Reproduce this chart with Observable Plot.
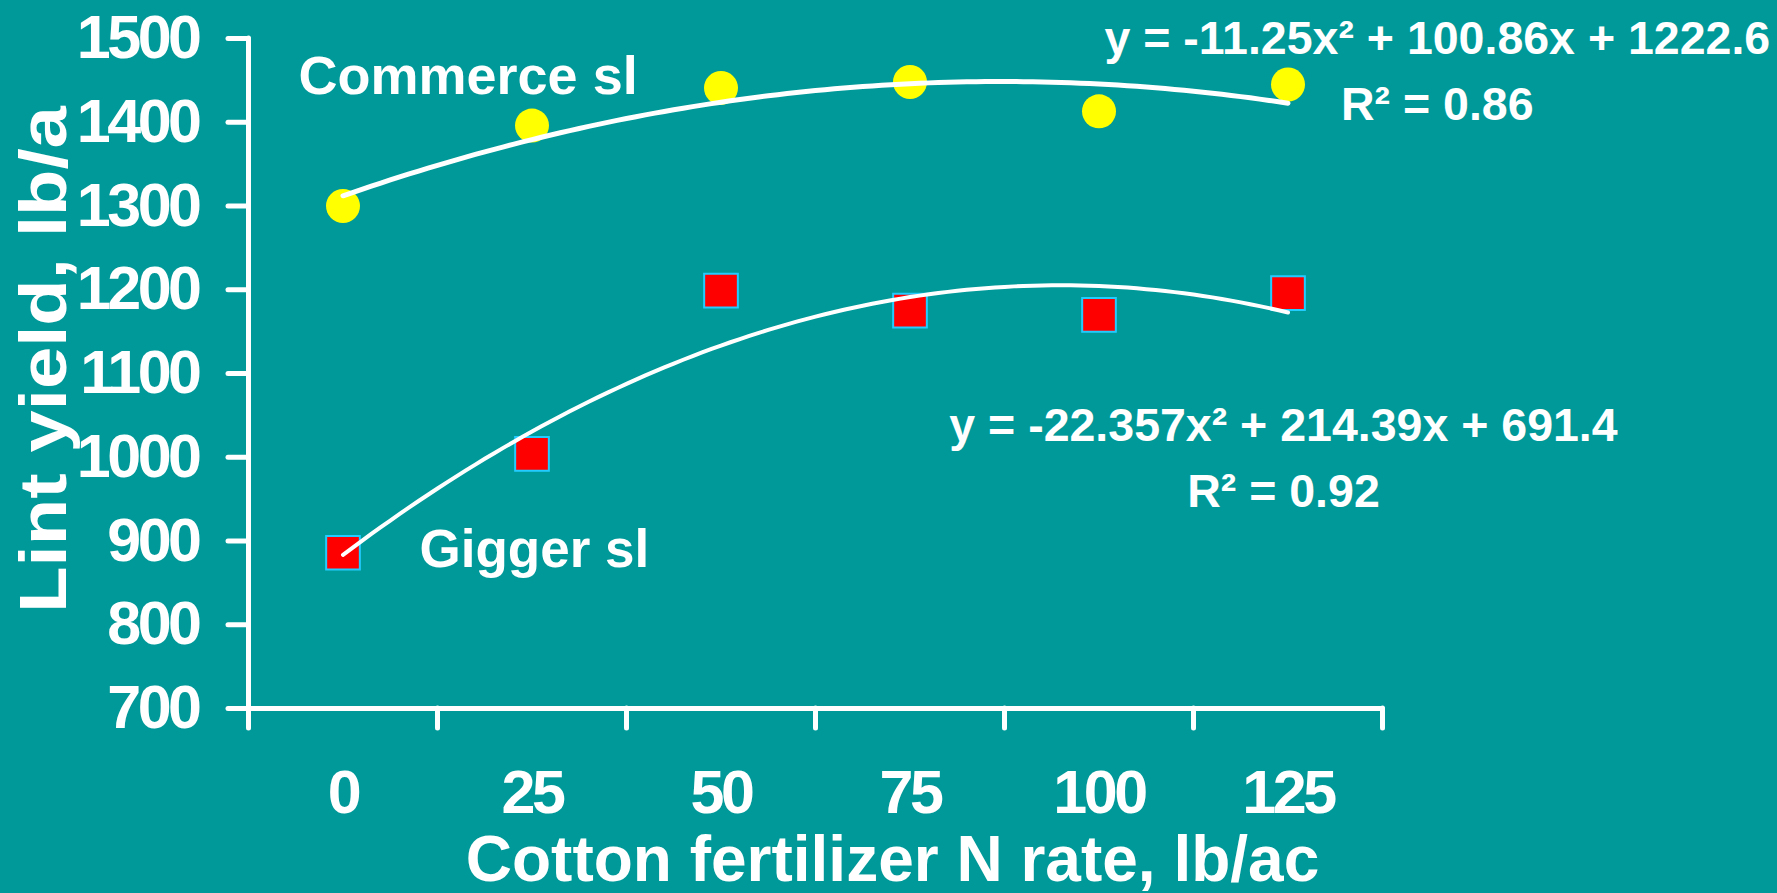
<!DOCTYPE html>
<html><head><meta charset="utf-8">
<script src="https://cdn.jsdelivr.net/npm/d3@7"></script>
<script src="https://cdn.jsdelivr.net/npm/@observablehq/plot@0.6"></script>
<style>html,body{margin:0;padding:0;background:#009999;overflow:hidden}</style>
</head><body><div id="chart"></div>
<script>
// Data
const rates = [0, 25, 50, 75, 100, 125];           // x categories, lb/ac
const commerce = [1300, 1396, 1441, 1448, 1413, 1445];
const gigger = [886, 1004, 1199, 1175, 1170, 1196];
const yTicks = [700, 800, 900, 1000, 1100, 1200, 1300, 1400, 1500];
// Polynomial trendline coefficients as printed (a, b, c) with x = category index 1..6
const commerceFit = [-11.25, 100.86, 1222.6];
const giggerFit = [-22.357, 214.39, 691.4];
const commerceEq = "y = -11.25x² + 100.86x + 1222.6\nR² = 0.86";
const giggerEq = "y = -22.357x² + 214.39x + 691.4\nR² = 0.92";
const seriesNames = ["Commerce sl", "Gigger sl"];
const xTitle = "Cotton fertilizer N rate, lb/ac";
const yTitle = "Lint yield, lb/a";

const idx = rates.map((_, i) => i + 1);
const ptsC = idx.map((x, i) => ({x, y: commerce[i]}));
const ptsG = idx.map((x, i) => ({x, y: gigger[i]}));
const trend = (c) => d3.range(1, 6.0001, 0.05).map(x => ({x, y: c[0]*x*x + c[1]*x + c[2]}));

const FONT = "'Liberation Sans', Arial, Helvetica, sans-serif";
const W = "white";

const chart = Plot.plot({
  width: 1777, height: 893,
  marginLeft: 248, marginRight: 395, marginTop: 38, marginBottom: 185,
  style: {background: "#009999", color: W, fontFamily: FONT, fontWeight: "bold", overflow: "visible"},
  x: {domain: [0.5, 6.5]},
  y: {domain: [700, 1500]},
  marks: [
    Plot.axisY({ticks: yTicks, tickSize: 20, tickPadding: 30, strokeWidth: 5, strokeLinecap: "round",
      tickFormat: d => String(d), fontSize: 61, fontWeight: "bold", label: null, stroke: W}),
    Plot.axisX({ticks: d3.range(0.5, 6.51, 1), tickSize: 20, tickFormat: () => "", strokeWidth: 5,
      strokeLinecap: "round", label: null, stroke: W}),
    Plot.axisX({ticks: idx, tickSize: 0, tickPadding: 61, tickFormat: d => String(rates[d - 1]),
      fontSize: 61, fontWeight: "bold", label: null}),
    Plot.ruleY([700], {stroke: W, strokeWidth: 5, strokeLinecap: "round"}),
    Plot.ruleX([0.5], {stroke: W, strokeWidth: 5, strokeLinecap: "round"}),
    Plot.dot(ptsC, {x: "x", y: "y", r: 17, fill: "#ffff00", stroke: "none"}),
    Plot.dot(ptsG, {x: "x", y: "y", r: 19, symbol: "square", fill: "#ff0000", stroke: "#22ccff", strokeWidth: 2}),
    Plot.line(trend(commerceFit), {x: "x", y: "y", stroke: W, strokeWidth: 5, strokeLinecap: "round"}),
    Plot.line(trend(giggerFit), {x: "x", y: "y", stroke: W, strokeWidth: 4, strokeLinecap: "round"}),
    Plot.text([seriesNames[0]], {x: 0.7646, y: 1434, text: d => d, textAnchor: "start", lineAnchor: "bottom",
      fontSize: 54, fontWeight: "bold", fill: W}),
    Plot.text([seriesNames[1]], {x: 1.405, y: 869, text: d => d, textAnchor: "start", lineAnchor: "bottom",
      fontSize: 53, fontWeight: "bold", fill: W}),
    Plot.text([commerceEq], {x: 6.79, y: 1403, text: d => d, textAnchor: "middle", lineAnchor: "bottom",
      lineHeight: 1.42, fontSize: 46.5, fontWeight: "bold", fill: W}),
    Plot.text([giggerEq], {x: 5.976, y: 941, text: d => d, textAnchor: "middle", lineAnchor: "bottom",
      lineHeight: 1.42, fontSize: 46.5, fontWeight: "bold", fill: W}),
    Plot.text([xTitle], {frameAnchor: "bottom", dx: 77, dy: 172, text: d => d, textAnchor: "middle",
      lineAnchor: "bottom", fontSize: 64, fontWeight: "bold", fill: W}),
    Plot.text([yTitle], {frameAnchor: "left", dx: -183, dy: -14, rotate: -90, text: d => d, textAnchor: "middle",
      lineAnchor: "bottom", fontSize: 76, fontWeight: "bold", fill: W})
  ]
});
// slightly condensed glyphs, as in the reference
d3.select(chart).selectAll("text").each(function() {
  const s = this.textContent;
  if (/^\d+$/.test(s)) this.style.letterSpacing = "-3.5px";
  if (s === yTitle) {
    const t = this.getAttribute("transform") || "";
    if (t.includes("rotate")) this.setAttribute("transform", t + " scale(1,0.87)");
  }
});
document.getElementById("chart").appendChild(chart);
</script>
</body></html>
